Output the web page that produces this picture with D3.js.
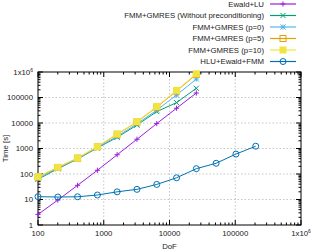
<!DOCTYPE html>
<html>
<head>
<meta charset="utf-8">
<script src="https://cdn.jsdelivr.net/npm/d3@7"></script>
<style>
  body { margin: 0; background: #fff; }
  text { font-family: "Liberation Sans", Arial, sans-serif; }
</style>
</head>
<body>
<script>
var w = 312,
    h = 252;

// DoF values
var dof = [100, 200, 400, 800, 1600, 3200, 6400, 12800, 25600];
var dofHlu = [100, 200, 400, 800, 1600, 3200, 6400, 12800, 25600, 51200, 102400, 204800];

// Time [s]
var ewaldLU = [2.6, 9.5, 36, 140, 570, 2300, 9500, 38000, 150000];
var gmresNone = [62, 160, 390, 1050, 2750, 8300, 28000, 63000, 230000];
var gmresP0 = [66, 170, 400, 1100, 3000, 9300, 32000, 125000, 530000];
var gmresP5 = [76, 180, 420, 1170, 3600, 11000, 42000, 180000, 800000];
var gmresP10 = [79, 183, 425, 1180, 3700, 11300, 44000, 190000, 850000];
var hluEwald = [12.9, 12.5, 12.8, 15, 20, 25, 39, 71, 162, 263, 605, 1230];

var xTicks = [100, 1000, 10000, 100000, 1000000];
var yTicks = [1, 10, 100, 1000, 10000, 100000, 1000000];

var series = [
  { name: "Ewald+LU", x: dof, y: ewaldLU, color: "#9a1ee0", mark: "plus" },
  { name: "FMM+GMRES (Without preconditioning)", x: dof, y: gmresNone, color: "#009e73", mark: "cross" },
  { name: "FMM+GMRES (p=0)", x: dof, y: gmresP0, color: "#56b4e9", mark: "star" },
  { name: "FMM+GMRES (p=5)", x: dof, y: gmresP5, color: "#e69f00", mark: "square" },
  { name: "FMM+GMRES (p=10)", x: dof, y: gmresP10, color: "#f0e442", mark: "fsquare" },
  { name: "HLU+Ewald+FMM", x: dofHlu, y: hluEwald, color: "#0072b2", mark: "circle" }
];

var pLeft = 38, pRight = 301, pTop = 72, pBottom = 225;

var x = d3.scaleLog().domain([100, 1e6]).range([pLeft, pRight]);
var y = d3.scaleLog().domain([1, 1e6]).range([pBottom, pTop]);

var svg = d3.select("body").append("svg")
    .attr("width", w)
    .attr("height", h);

// grid
svg.append("g").selectAll("line").data(xTicks.slice(1, -1)).enter().append("line")
    .attr("x1", function(d) { return x(d); }).attr("x2", function(d) { return x(d); })
    .attr("y1", pTop).attr("y2", pBottom)
    .attr("stroke", "#a0a0a0").attr("stroke-width", 0.6).attr("stroke-dasharray", "1.5,2");
svg.append("g").selectAll("line").data(yTicks.slice(1, -1)).enter().append("line")
    .attr("y1", function(d) { return y(d); }).attr("y2", function(d) { return y(d); })
    .attr("x1", pLeft).attr("x2", pRight)
    .attr("stroke", "#a0a0a0").attr("stroke-width", 0.6).attr("stroke-dasharray", "1.5,2");

// axes with mirrored ticks
var xMinor = [], yMinor = [];
xTicks.slice(0, -1).forEach(function(t) { for (var k = 2; k < 10; k++) xMinor.push(t * k); });
yTicks.slice(0, -1).forEach(function(t) { for (var k = 2; k < 10; k++) yMinor.push(t * k); });

var ax = svg.append("g").attr("stroke", "#000").attr("stroke-width", 1);
function xticks(vals, len) {
  vals.forEach(function(v) {
    ax.append("line").attr("x1", x(v)).attr("x2", x(v)).attr("y1", pBottom).attr("y2", pBottom - len);
    ax.append("line").attr("x1", x(v)).attr("x2", x(v)).attr("y1", pTop).attr("y2", pTop + len);
  });
}
function yticks(vals, len) {
  vals.forEach(function(v) {
    ax.append("line").attr("y1", y(v)).attr("y2", y(v)).attr("x1", pLeft).attr("x2", pLeft + len);
    ax.append("line").attr("y1", y(v)).attr("y2", y(v)).attr("x1", pRight).attr("x2", pRight - len);
  });
}
xticks(xTicks, 5); xticks(xMinor, 2.5);
yticks(yTicks, 5); yticks(yMinor, 2.5);

svg.append("rect").attr("x", pLeft).attr("y", pTop)
    .attr("width", pRight - pLeft).attr("height", pBottom - pTop)
    .attr("fill", "none").attr("stroke", "#000").attr("stroke-width", 1);

// tick labels
function sup(sel, v) {
  if (v >= 1e6) {
    sel.append("tspan").text("1x10");
    sel.append("tspan").attr("dy", -3).attr("font-size", 5).text("6");
  } else sel.text(v);
}
xTicks.forEach(function(v) {
  var t = svg.append("text").attr("x", x(v)).attr("y", pBottom + 11)
      .attr("text-anchor", "middle").attr("font-size", 7.8).attr("fill", "#222");
  sup(t, v);
});
yTicks.forEach(function(v) {
  var t = svg.append("text").attr("x", pLeft - 5).attr("y", y(v) + 2.8)
      .attr("text-anchor", "end").attr("font-size", 7.8).attr("fill", "#222");
  sup(t, v);
});

svg.append("text").attr("x", (pLeft + pRight) / 2).attr("y", 249)
    .attr("text-anchor", "middle").attr("font-size", 7.8).attr("fill", "#222").text("DoF");
svg.append("text").attr("transform", "translate(8," + ((pTop + pBottom) / 2) + ") rotate(-90)")
    .attr("text-anchor", "middle").attr("font-size", 7.8).attr("fill", "#222").text("Time [s]");

// markers
function drawMark(g, mark, cx, cy, color) {
  var s = 2.6;
  if (mark == "plus" || mark == "star") {
    g.append("path").attr("d", "M" + (cx - s) + "," + cy + "H" + (cx + s) + "M" + cx + "," + (cy - s) + "V" + (cy + s))
      .attr("stroke", color).attr("stroke-width", 1);
  }
  if (mark == "cross" || mark == "star") {
    g.append("path").attr("d", "M" + (cx - s) + "," + (cy - s) + "L" + (cx + s) + "," + (cy + s) + "M" + (cx - s) + "," + (cy + s) + "L" + (cx + s) + "," + (cy - s))
      .attr("stroke", color).attr("stroke-width", 1);
  }
  if (mark == "square") {
    g.append("rect").attr("x", cx - 3).attr("y", cy - 3).attr("width", 6).attr("height", 6)
      .attr("fill", "none").attr("stroke", color).attr("stroke-width", 1);
  }
  if (mark == "fsquare") {
    g.append("rect").attr("x", cx - 3.5).attr("y", cy - 3.5).attr("width", 7).attr("height", 7)
      .attr("fill", color);
  }
  if (mark == "circle") {
    g.append("circle").attr("cx", cx).attr("cy", cy).attr("r", 3)
      .attr("fill", "none").attr("stroke", color).attr("stroke-width", 1);
  }
}

var line = d3.line()
    .x(function(d) { return x(d[0]); })
    .y(function(d) { return y(d[1]); });

series.forEach(function(s) {
  var pts = s.x.map(function(v, i) { return [v, s.y[i]]; });
  var g = svg.append("g");
  g.append("path").datum(pts).attr("d", line)
      .attr("fill", "none").attr("stroke", s.color).attr("stroke-width", 1);
  pts.forEach(function(p) { drawMark(g, s.mark, x(p[0]), y(p[1]), s.color); });
});

// legend
series.forEach(function(s, i) {
  var ly = 4 + i * 11.5;
  svg.append("text").attr("x", 264).attr("y", ly + 2.8)
      .attr("text-anchor", "end").attr("font-size", 7.8).attr("fill", "#222").text(s.name);
  var g = svg.append("g");
  g.append("line").attr("x1", 270).attr("x2", 296).attr("y1", ly).attr("y2", ly)
      .attr("stroke", s.color).attr("stroke-width", 1.2);
  drawMark(g, s.mark, 283, ly, s.color);
});
</script>
</body>
</html>
